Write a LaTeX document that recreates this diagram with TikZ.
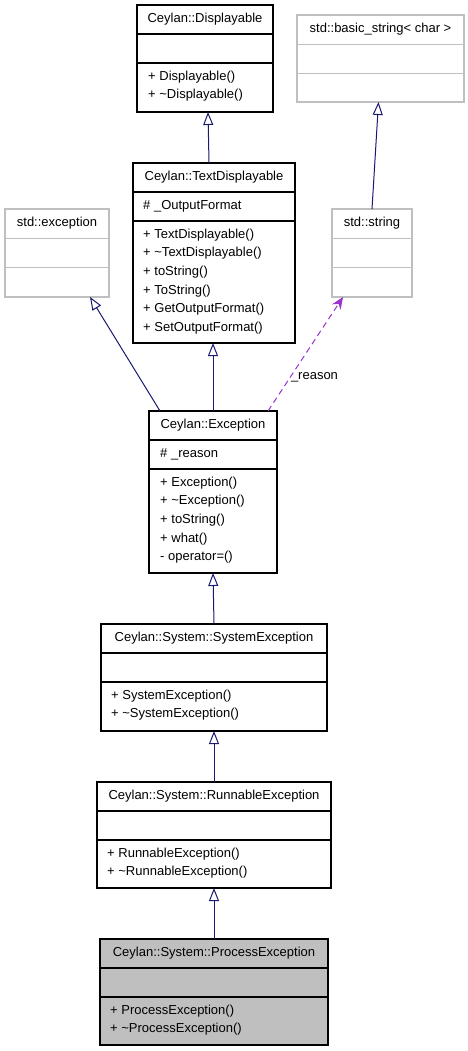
\documentclass[tikz,border=0pt]{standalone}
\usepackage{fontspec}
\setmainfont{Liberation Sans}
\usetikzlibrary{arrows.meta}
\definecolor{edgeblue}{HTML}{191970}
\definecolor{edgepurple}{HTML}{9A32CD}
\definecolor{boxgray}{HTML}{BFBFBF}

\begin{document}
\begin{tikzpicture}[x=1pt, y=-1pt,
    every node/.style={font=\fontsize{13}{15}\selectfont},
    cls/.style={draw=black, line width=1.4pt, anchor=north west, inner sep=0pt, outer sep=0pt},
    ext/.style={cls, draw=boxgray},
    ttl/.style={inner sep=0pt},
    mth/.style={inner sep=0pt, anchor=west},
    inh/.style={draw=edgeblue, line width=1pt, -{Triangle[open, length=13pt, width=10pt]}},
    use/.style={draw=edgepurple, line width=1pt, dash pattern=on 6pt off 4pt, -{Stealth[length=12pt, width=10pt]}}]
        \useasboundingbox (0,0) rectangle (468,1051);
        % class boxes
        \node[cls, minimum width=136pt, minimum height=107pt] (disp) at (137,5) {};
        \node[ext, minimum width=167pt, minimum height=87pt] (bstr) at (297,15) {};
        \node[cls, minimum width=162pt, minimum height=180pt] (txtd) at (133,163) {};
        \node[ext, minimum width=104pt, minimum height=88pt] (sexc) at (5,209) {};
        \node[ext, minimum width=80pt, minimum height=88pt] (sstr) at (332,209) {};
        \node[cls, minimum width=128pt, minimum height=162pt] (exc) at (149,411) {};
        \node[cls, minimum width=226pt, minimum height=107pt] (syse) at (101,624) {};
        \node[cls, minimum width=234pt, minimum height=106pt] (rune) at (97,782) {};
        \node[cls, fill=boxgray, minimum width=228pt, minimum height=106pt] (proc) at (100,939) {};
        % compartments
        \foreach \c in {disp, txtd, exc, syse, rune, proc} {
            \draw[line width=1.4pt] ([yshift=-29pt]\c.north west) -- ([yshift=-29pt]\c.north east);
            \draw[line width=1.4pt] ([yshift=-58pt]\c.north west) -- ([yshift=-58pt]\c.north east);
        }
        \foreach \c in {bstr, sexc, sstr} {
            \draw[line width=1.4pt, boxgray] ([yshift=-29.3pt]\c.north west) -- ([yshift=-29.3pt]\c.north east);
            \draw[line width=1.4pt, boxgray] ([yshift=-58.6pt]\c.north west) -- ([yshift=-58.6pt]\c.north east);
        }
        % titles
        \node[ttl] (disp-t) at ([yshift=-14.5pt]disp.north) {Ceylan::Displayable};
        \node[ttl] (bstr-t) at ([yshift=-14.5pt]bstr.north) {std::basic\_string< char >};
        \node[ttl] (txtd-t) at ([yshift=-14.5pt]txtd.north) {Ceylan::TextDisplayable};
        \node[ttl] (sexc-t) at ([yshift=-14.5pt]sexc.north) {std::exception};
        \node[ttl] (sstr-t) at ([yshift=-14.5pt]sstr.north) {std::string};
        \node[ttl] (exc-t) at ([yshift=-14.5pt]exc.north) {Ceylan::Exception};
        \node[ttl] (syse-t) at ([yshift=-14.5pt]syse.north) {Ceylan::System::SystemException};
        \node[ttl] (rune-t) at ([yshift=-14.5pt]rune.north) {Ceylan::System::RunnableException};
        \node[ttl] (proc-t) at ([yshift=-14.5pt]proc.north) {Ceylan::System::ProcessException};
        % attributes
        \node[mth] (txtd-a) at ([xshift=10pt, yshift=-43.5pt]txtd.north west) {\# \_OutputFormat};
        \node[mth] (exc-a) at ([xshift=11pt, yshift=-43.5pt]exc.north west) {\# \_reason};
        % methods
        \foreach \m [count=\i] in {+ Displayable(), + \textasciitilde Displayable()}
            \path ([xshift=11pt]disp.north west) ++(0,{72+18.6*(\i-1)}) node[mth] (disp-m\i) {\m};
        \foreach \m [count=\i] in {+ TextDisplayable(), + \textasciitilde TextDisplayable(), + toString(), + ToString(), + GetOutputFormat(), + SetOutputFormat()}
            \path ([xshift=10pt]txtd.north west) ++(0,{72+18.6*(\i-1)}) node[mth] (txtd-m\i) {\m};
        \foreach \m [count=\i] in {+ Exception(), + \textasciitilde Exception(), + toString(), + what(), - operator=()}
            \path ([xshift=11pt]exc.north west) ++(0,{72+18.6*(\i-1)}) node[mth] (exc-m\i) {\m};
        \foreach \m [count=\i] in {+ SystemException(), + \textasciitilde SystemException()}
            \path ([xshift=10pt]syse.north west) ++(0,{72+18.6*(\i-1)}) node[mth] (syse-m\i) {\m};
        \foreach \m [count=\i] in {+ RunnableException(), + \textasciitilde RunnableException()}
            \path ([xshift=10pt]rune.north west) ++(0,{72+18.6*(\i-1)}) node[mth] (rune-m\i) {\m};
        \foreach \m [count=\i] in {+ ProcessException(), + \textasciitilde ProcessException()}
            \path ([xshift=10pt]proc.north west) ++(0,{72+18.6*(\i-1)}) node[mth] (proc-m\i) {\m};
        % inheritance and usage
        \draw[inh] ([xshift=-5pt]txtd.north) -- ([xshift=3pt]disp.south);
        \draw[inh] (sstr.north) -- ([xshift=-2pt]bstr.south);
        \draw[inh] ([xshift=-53pt]exc.north) -- ([xshift=33pt]sexc.south);
        \draw[inh] (exc.north) -- ([xshift=-1pt]txtd.south);
        \draw[use] ([xshift=55pt]exc.north) -- node[pos=0.3, anchor=west, inner sep=0pt] (reason) {\_reason} ([xshift=-29pt]sstr.south);
        \draw[inh] (syse.north) -- (exc.south);
        \draw[inh] (rune.north) -- (syse.south);
        \draw[inh] (proc.north) -- (rune.south);
\end{tikzpicture}
\end{document}
